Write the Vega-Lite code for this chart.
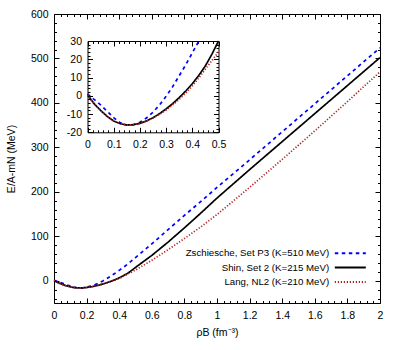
{
  "$schema": "https://vega.github.io/schema/vega-lite/v6.json",
  "width": 326,
  "height": 289,
  "autosize": "none",
  "padding": {"left": 54, "top": 14, "right": 20, "bottom": 47},
  "config": {
    "font": "Liberation Sans",
    "view": {"stroke": "#000000", "strokeWidth": 1},
    "axis": {
      "domain": false, "grid": false, "tickColor": "#000000", "tickWidth": 1,
      "labelColor": "#000000", "labelFontSize": 10.5, "labelFont": "Liberation Sans",
      "titleFont": "Liberation Sans", "titleFontSize": 10.5, "titleFontWeight": "normal", "titleColor": "#000000",
      "labelFlush": false, "labelOverlap": false
    }
  },
  "datasets": {
    "curves": [
      {"s": "Zschiesche, Set P3 (K=510 MeV)", "x": 0, "y": 1},
      {"s": "Zschiesche, Set P3 (K=510 MeV)", "x": 0.025, "y": -2},
      {"s": "Zschiesche, Set P3 (K=510 MeV)", "x": 0.05, "y": -5},
      {"s": "Zschiesche, Set P3 (K=510 MeV)", "x": 0.075, "y": -8.5},
      {"s": "Zschiesche, Set P3 (K=510 MeV)", "x": 0.1, "y": -12},
      {"s": "Zschiesche, Set P3 (K=510 MeV)", "x": 0.125, "y": -14.8},
      {"s": "Zschiesche, Set P3 (K=510 MeV)", "x": 0.15, "y": -16},
      {"s": "Zschiesche, Set P3 (K=510 MeV)", "x": 0.175, "y": -15.8},
      {"s": "Zschiesche, Set P3 (K=510 MeV)", "x": 0.2, "y": -14.5},
      {"s": "Zschiesche, Set P3 (K=510 MeV)", "x": 0.225, "y": -12.2},
      {"s": "Zschiesche, Set P3 (K=510 MeV)", "x": 0.25, "y": -9},
      {"s": "Zschiesche, Set P3 (K=510 MeV)", "x": 0.275, "y": -5},
      {"s": "Zschiesche, Set P3 (K=510 MeV)", "x": 0.3, "y": -0.3},
      {"s": "Zschiesche, Set P3 (K=510 MeV)", "x": 0.325, "y": 5},
      {"s": "Zschiesche, Set P3 (K=510 MeV)", "x": 0.35, "y": 11},
      {"s": "Zschiesche, Set P3 (K=510 MeV)", "x": 0.375, "y": 17},
      {"s": "Zschiesche, Set P3 (K=510 MeV)", "x": 0.4, "y": 23.5},
      {"s": "Zschiesche, Set P3 (K=510 MeV)", "x": 0.425, "y": 30},
      {"s": "Zschiesche, Set P3 (K=510 MeV)", "x": 0.45, "y": 37},
      {"s": "Zschiesche, Set P3 (K=510 MeV)", "x": 0.5, "y": 52},
      {"s": "Zschiesche, Set P3 (K=510 MeV)", "x": 0.6, "y": 83},
      {"s": "Zschiesche, Set P3 (K=510 MeV)", "x": 0.7, "y": 115},
      {"s": "Zschiesche, Set P3 (K=510 MeV)", "x": 0.8, "y": 147},
      {"s": "Zschiesche, Set P3 (K=510 MeV)", "x": 0.9, "y": 178},
      {"s": "Zschiesche, Set P3 (K=510 MeV)", "x": 1.0, "y": 210},
      {"s": "Zschiesche, Set P3 (K=510 MeV)", "x": 1.2, "y": 272},
      {"s": "Zschiesche, Set P3 (K=510 MeV)", "x": 1.4, "y": 335},
      {"s": "Zschiesche, Set P3 (K=510 MeV)", "x": 1.6, "y": 398},
      {"s": "Zschiesche, Set P3 (K=510 MeV)", "x": 1.8, "y": 461},
      {"s": "Zschiesche, Set P3 (K=510 MeV)", "x": 2.0, "y": 524},
      {"s": "Shin, Set 2 (K=215 MeV)", "x": 0, "y": 0.5},
      {"s": "Shin, Set 2 (K=215 MeV)", "x": 0.025, "y": -4.3},
      {"s": "Shin, Set 2 (K=215 MeV)", "x": 0.05, "y": -8},
      {"s": "Shin, Set 2 (K=215 MeV)", "x": 0.075, "y": -11.3},
      {"s": "Shin, Set 2 (K=215 MeV)", "x": 0.1, "y": -13.8},
      {"s": "Shin, Set 2 (K=215 MeV)", "x": 0.125, "y": -15.3},
      {"s": "Shin, Set 2 (K=215 MeV)", "x": 0.15, "y": -16},
      {"s": "Shin, Set 2 (K=215 MeV)", "x": 0.175, "y": -15.9},
      {"s": "Shin, Set 2 (K=215 MeV)", "x": 0.2, "y": -15.1},
      {"s": "Shin, Set 2 (K=215 MeV)", "x": 0.225, "y": -13.8},
      {"s": "Shin, Set 2 (K=215 MeV)", "x": 0.25, "y": -12},
      {"s": "Shin, Set 2 (K=215 MeV)", "x": 0.275, "y": -9.8},
      {"s": "Shin, Set 2 (K=215 MeV)", "x": 0.3, "y": -7.2},
      {"s": "Shin, Set 2 (K=215 MeV)", "x": 0.325, "y": -4.3},
      {"s": "Shin, Set 2 (K=215 MeV)", "x": 0.35, "y": -1},
      {"s": "Shin, Set 2 (K=215 MeV)", "x": 0.375, "y": 2.6},
      {"s": "Shin, Set 2 (K=215 MeV)", "x": 0.4, "y": 6.6},
      {"s": "Shin, Set 2 (K=215 MeV)", "x": 0.425, "y": 11.2},
      {"s": "Shin, Set 2 (K=215 MeV)", "x": 0.45, "y": 16.4},
      {"s": "Shin, Set 2 (K=215 MeV)", "x": 0.475, "y": 22.8},
      {"s": "Shin, Set 2 (K=215 MeV)", "x": 0.5, "y": 30},
      {"s": "Shin, Set 2 (K=215 MeV)", "x": 0.6, "y": 57},
      {"s": "Shin, Set 2 (K=215 MeV)", "x": 0.7, "y": 87},
      {"s": "Shin, Set 2 (K=215 MeV)", "x": 0.8, "y": 119},
      {"s": "Shin, Set 2 (K=215 MeV)", "x": 0.9, "y": 152},
      {"s": "Shin, Set 2 (K=215 MeV)", "x": 1.0, "y": 186},
      {"s": "Shin, Set 2 (K=215 MeV)", "x": 1.2, "y": 250},
      {"s": "Shin, Set 2 (K=215 MeV)", "x": 1.4, "y": 313},
      {"s": "Shin, Set 2 (K=215 MeV)", "x": 1.6, "y": 376},
      {"s": "Shin, Set 2 (K=215 MeV)", "x": 1.8, "y": 439},
      {"s": "Shin, Set 2 (K=215 MeV)", "x": 2.0, "y": 502},
      {"s": "Lang, NL2 (K=210 MeV)", "x": 0, "y": 0.5},
      {"s": "Lang, NL2 (K=210 MeV)", "x": 0.025, "y": -4.3},
      {"s": "Lang, NL2 (K=210 MeV)", "x": 0.05, "y": -8},
      {"s": "Lang, NL2 (K=210 MeV)", "x": 0.075, "y": -11.3},
      {"s": "Lang, NL2 (K=210 MeV)", "x": 0.1, "y": -13.8},
      {"s": "Lang, NL2 (K=210 MeV)", "x": 0.125, "y": -15.3},
      {"s": "Lang, NL2 (K=210 MeV)", "x": 0.15, "y": -16},
      {"s": "Lang, NL2 (K=210 MeV)", "x": 0.175, "y": -15.9},
      {"s": "Lang, NL2 (K=210 MeV)", "x": 0.2, "y": -15.1},
      {"s": "Lang, NL2 (K=210 MeV)", "x": 0.225, "y": -13.9},
      {"s": "Lang, NL2 (K=210 MeV)", "x": 0.25, "y": -12.2},
      {"s": "Lang, NL2 (K=210 MeV)", "x": 0.275, "y": -10.2},
      {"s": "Lang, NL2 (K=210 MeV)", "x": 0.3, "y": -7.8},
      {"s": "Lang, NL2 (K=210 MeV)", "x": 0.325, "y": -5},
      {"s": "Lang, NL2 (K=210 MeV)", "x": 0.35, "y": -1.9},
      {"s": "Lang, NL2 (K=210 MeV)", "x": 0.375, "y": 1.5},
      {"s": "Lang, NL2 (K=210 MeV)", "x": 0.4, "y": 5.4},
      {"s": "Lang, NL2 (K=210 MeV)", "x": 0.425, "y": 9.8},
      {"s": "Lang, NL2 (K=210 MeV)", "x": 0.45, "y": 14.6},
      {"s": "Lang, NL2 (K=210 MeV)", "x": 0.475, "y": 19.3},
      {"s": "Lang, NL2 (K=210 MeV)", "x": 0.5, "y": 24},
      {"s": "Lang, NL2 (K=210 MeV)", "x": 0.6, "y": 46},
      {"s": "Lang, NL2 (K=210 MeV)", "x": 0.7, "y": 70},
      {"s": "Lang, NL2 (K=210 MeV)", "x": 0.8, "y": 95},
      {"s": "Lang, NL2 (K=210 MeV)", "x": 0.9, "y": 121},
      {"s": "Lang, NL2 (K=210 MeV)", "x": 1.0, "y": 149},
      {"s": "Lang, NL2 (K=210 MeV)", "x": 1.2, "y": 210},
      {"s": "Lang, NL2 (K=210 MeV)", "x": 1.4, "y": 273},
      {"s": "Lang, NL2 (K=210 MeV)", "x": 1.6, "y": 337},
      {"s": "Lang, NL2 (K=210 MeV)", "x": 1.8, "y": 403},
      {"s": "Lang, NL2 (K=210 MeV)", "x": 2.0, "y": 470}
    ]
  },
  "data": {"name": "curves"},
  "resolve": {"scale": {"x": "independent", "y": "independent"}},
  "layer": [
    {
      "resolve": {"axis": {"x": "independent", "y": "independent"}},
      "layer": [
        {
          "mark": {"type": "line", "strokeWidth": 1.7},
          "encoding": {
            "x": {
              "field": "x", "type": "quantitative",
              "scale": {"domain": [0, 2], "nice": false, "zero": false},
              "axis": {
                "orient": "bottom",
                "values": [0,0.04,0.08,0.12,0.16,0.2,0.24,0.28,0.32,0.36,0.4,0.44,0.48,0.52,0.56,0.6,0.64,0.68,0.72,0.76,0.8,0.84,0.88,0.92,0.96,1,1.04,1.08,1.12,1.16,1.2,1.24,1.28,1.32,1.36,1.4,1.44,1.48,1.52,1.56,1.6,1.64,1.68,1.72,1.76,1.8,1.84,1.88,1.92,1.96,2],
                "tickSize": {"condition": {"test": "abs(datum.value*5 - round(datum.value*5)) < 1e-6", "value": -5}, "value": -2.5},
                "labelExpr": "abs(datum.value*5 - round(datum.value*5)) < 1e-6 ? toString(datum.value) : ''",
                "labelPadding": 12,
                "title": "ρB (fm⁻³)",
                "titlePadding": 4
              }
            },
            "y": {
              "field": "y", "type": "quantitative",
              "scale": {"domain": [-50, 600], "nice": false, "zero": false},
              "axis": {
                "orient": "left",
                "values": [-40,-20,0,20,40,60,80,100,120,140,160,180,200,220,240,260,280,300,320,340,360,380,400,420,440,460,480,500,520,540,560,580,600],
                "tickSize": {"condition": {"test": "abs(datum.value/100 - round(datum.value/100)) < 1e-6", "value": -5}, "value": -2.5},
                "labelExpr": "abs(datum.value/100 - round(datum.value/100)) < 1e-6 ? toString(datum.value) : ''",
                "labelPadding": 11,
                "title": "E/A-mN (MeV)",
                "titlePadding": 14
              }
            },
            "color": {
              "field": "s", "type": "nominal",
              "scale": {"domain": ["Zschiesche, Set P3 (K=510 MeV)", "Shin, Set 2 (K=215 MeV)", "Lang, NL2 (K=210 MeV)"], "range": ["#0000ff", "#000000", "#b22222"]},
              "legend": {"orient": "none", "legendX": 289.8, "legendY": 232.8, "title": null, "symbolType": "M-3,0H3", "symbolSize": 106.8, "symbolStrokeWidth": 2, "labelAlign": "right", "labelOffset": -27.6, "labelFontSize": 9.7, "labelFont": "Liberation Sans", "labelColor": "#000000", "rowPadding": 2.3, "padding": 0, "labelLimit": 300}
            },
            "strokeDash": {
              "field": "s", "type": "nominal",
              "scale": {"domain": ["Zschiesche, Set P3 (K=510 MeV)", "Shin, Set 2 (K=215 MeV)", "Lang, NL2 (K=210 MeV)"], "range": [[3.5, 3.5], [1, 0], [1.2, 1.8]]},
              "legend": {"orient": "none", "legendX": 289.8, "legendY": 232.8, "title": null, "symbolType": "M-3,0H3", "symbolSize": 106.8, "symbolStrokeWidth": 2, "labelAlign": "right", "labelOffset": -27.6, "labelFontSize": 9.7, "labelFont": "Liberation Sans", "labelColor": "#000000", "rowPadding": 2.3, "padding": 0, "labelLimit": 300}
            }
          }
        },
        {
          "mark": {"type": "point", "opacity": 0},
          "encoding": {
            "x": {
              "field": "x", "type": "quantitative",
              "axis": {
                "orient": "top",
                "values": [0,0.04,0.08,0.12,0.16,0.2,0.24,0.28,0.32,0.36,0.4,0.44,0.48,0.52,0.56,0.6,0.64,0.68,0.72,0.76,0.8,0.84,0.88,0.92,0.96,1,1.04,1.08,1.12,1.16,1.2,1.24,1.28,1.32,1.36,1.4,1.44,1.48,1.52,1.56,1.6,1.64,1.68,1.72,1.76,1.8,1.84,1.88,1.92,1.96,2],
                "tickSize": {"condition": {"test": "abs(datum.value*5 - round(datum.value*5)) < 1e-6", "value": -5}, "value": -2.5},
                "labels": false,
                "title": null
              }
            },
            "y": {
              "field": "y", "type": "quantitative",
              "axis": {
                "orient": "right",
                "values": [-40,-20,0,20,40,60,80,100,120,140,160,180,200,220,240,260,280,300,320,340,360,380,400,420,440,460,480,500,520,540,560,580,600],
                "tickSize": {"condition": {"test": "abs(datum.value/100 - round(datum.value/100)) < 1e-6", "value": -5}, "value": -2.5},
                "labels": false,
                "title": null
              }
            }
          }
        }
      ]
    },
    {
      "resolve": {"axis": {"x": "independent", "y": "independent"}},
      "transform": [{"filter": "datum.x <= 0.5 && datum.y <= 30.01"}],
      "layer": [
        {
          "mark": {"type": "line", "strokeWidth": 1.7},
          "encoding": {
            "x": {
              "field": "x", "type": "quantitative",
              "scale": {"domain": [0, 0.5], "range": [33.5, 164.5], "nice": false, "zero": false},
              "axis": {
                "orient": "bottom", "offset": -170.7, "domain": true, "domainColor": "#000000",
                "values": [0,0.02,0.04,0.06,0.08,0.1,0.12,0.14,0.16,0.18,0.2,0.22,0.24,0.26,0.28,0.3,0.32,0.34,0.36,0.38,0.4,0.42,0.44,0.46,0.48,0.5],
                "tickSize": {"condition": {"test": "abs(datum.value*10 - round(datum.value*10)) < 1e-6", "value": -5}, "value": -2.5},
                "labelExpr": "abs(datum.value*10 - round(datum.value*10)) < 1e-6 ? toString(datum.value) : ''",
                "labelPadding": 12,
                "title": null
              }
            },
            "y": {
              "field": "y", "type": "quantitative",
              "scale": {"domain": [-20, 30], "range": [118.3, 27], "nice": false, "zero": false},
              "axis": {
                "orient": "left", "offset": -33.5, "domain": true, "domainColor": "#000000",
                "values": [-20,-18,-16,-14,-12,-10,-8,-6,-4,-2,0,2,4,6,8,10,12,14,16,18,20,22,24,26,28,30],
                "tickSize": {"condition": {"test": "abs(datum.value/10 - round(datum.value/10)) < 1e-6", "value": -5}, "value": -2.5},
                "labelExpr": "abs(datum.value/10 - round(datum.value/10)) < 1e-6 ? toString(datum.value) : ''",
                "labelPadding": 11,
                "title": null
              }
            },
            "color": {
              "field": "s", "type": "nominal",
              "scale": {"domain": ["Zschiesche, Set P3 (K=510 MeV)", "Shin, Set 2 (K=215 MeV)", "Lang, NL2 (K=210 MeV)"], "range": ["#0000ff", "#000000", "#b22222"]},
              "legend": {"orient": "none", "legendX": 289.8, "legendY": 232.8, "title": null, "symbolType": "M-3,0H3", "symbolSize": 106.8, "symbolStrokeWidth": 2, "labelAlign": "right", "labelOffset": -27.6, "labelFontSize": 9.7, "labelFont": "Liberation Sans", "labelColor": "#000000", "rowPadding": 2.3, "padding": 0, "labelLimit": 300}
            },
            "strokeDash": {
              "field": "s", "type": "nominal",
              "scale": {"domain": ["Zschiesche, Set P3 (K=510 MeV)", "Shin, Set 2 (K=215 MeV)", "Lang, NL2 (K=210 MeV)"], "range": [[3.5, 3.5], [1, 0], [1.2, 1.8]]},
              "legend": {"orient": "none", "legendX": 289.8, "legendY": 232.8, "title": null, "symbolType": "M-3,0H3", "symbolSize": 106.8, "symbolStrokeWidth": 2, "labelAlign": "right", "labelOffset": -27.6, "labelFontSize": 9.7, "labelFont": "Liberation Sans", "labelColor": "#000000", "rowPadding": 2.3, "padding": 0, "labelLimit": 300}
            }
          }
        },
        {
          "mark": {"type": "point", "opacity": 0},
          "encoding": {
            "x": {
              "field": "x", "type": "quantitative",
              "axis": {
                "orient": "top", "offset": -27, "domain": true, "domainColor": "#000000",
                "values": [0,0.02,0.04,0.06,0.08,0.1,0.12,0.14,0.16,0.18,0.2,0.22,0.24,0.26,0.28,0.3,0.32,0.34,0.36,0.38,0.4,0.42,0.44,0.46,0.48,0.5],
                "tickSize": {"condition": {"test": "abs(datum.value*10 - round(datum.value*10)) < 1e-6", "value": -5}, "value": -2.5},
                "labels": false,
                "title": null
              }
            },
            "y": {
              "field": "y", "type": "quantitative",
              "axis": {
                "orient": "right", "offset": -161.5, "domain": true, "domainColor": "#000000",
                "values": [-20,-18,-16,-14,-12,-10,-8,-6,-4,-2,0,2,4,6,8,10,12,14,16,18,20,22,24,26,28,30],
                "tickSize": {"condition": {"test": "abs(datum.value/10 - round(datum.value/10)) < 1e-6", "value": -5}, "value": -2.5},
                "labels": false,
                "title": null
              }
            }
          }
        }
      ]
    }
  ]
}
